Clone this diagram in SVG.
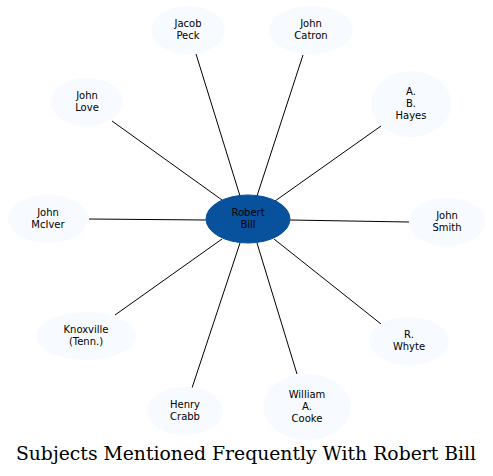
<svg xmlns="http://www.w3.org/2000/svg" width="493" height="476" viewBox="0 0 493 476">
<style>
.n{fill:#f7fbff;stroke:none}
.c{fill:#08519c;stroke:#08519c}
text{font-family:"DejaVu Sans",sans-serif;font-size:10px;text-anchor:middle;fill:#000}
.t{font-family:"DejaVu Serif",serif;font-size:18.8px}
#edges line{stroke:#000;stroke-width:1}
</style>
<rect width="493" height="476" fill="#fff"/>
<g id="edges">
<line x1="196" y1="54" x2="240" y2="196"/>
<line x1="303" y1="55" x2="257" y2="196"/>
<line x1="381" y1="126" x2="275" y2="201"/>
<line x1="112" y1="121" x2="222" y2="200"/>
<line x1="89" y1="219" x2="206" y2="220"/>
<line x1="409" y1="222" x2="290" y2="220"/>
<line x1="115" y1="315" x2="222" y2="239"/>
<line x1="381" y1="324" x2="274" y2="239"/>
<line x1="192" y1="388" x2="240" y2="243"/>
<line x1="297" y1="374" x2="257" y2="243"/>
</g>
<g id="robert_bill"><ellipse class="c" cx="248" cy="219" rx="42" ry="24"/><text x="248" y="215.5">Robert</text><text x="248" y="227.5">Bill</text></g>
<g id="jacob_peck"><ellipse class="n" cx="188" cy="30" rx="37" ry="24"/><text x="188" y="26.5">Jacob</text><text x="188" y="38.5">Peck</text></g>
<g id="john_catron"><ellipse class="n" cx="311" cy="30" rx="42" ry="24"/><text x="311" y="26.5">John</text><text x="311" y="38.5">Catron</text></g>
<g id="ab_hayes"><ellipse class="n" cx="411" cy="104" rx="40" ry="33"/><text x="411" y="94.5">A.</text><text x="411" y="106.5">B.</text><text x="411" y="118.5">Hayes</text></g>
<g id="john_love"><ellipse class="n" cx="87" cy="102" rx="36" ry="24"/><text x="87" y="98.5">John</text><text x="87" y="110.5">Love</text></g>
<g id="john_mciver"><ellipse class="n" cx="48" cy="219" rx="40" ry="24"/><text x="48" y="215.5">John</text><text x="48" y="227.5">McIver</text></g>
<g id="john_smith"><ellipse class="n" cx="447" cy="222" rx="38" ry="24"/><text x="447" y="218.5">John</text><text x="447" y="230.5">Smith</text></g>
<g id="knoxville"><ellipse class="n" cx="86" cy="336" rx="50" ry="24"/><text x="86" y="332.5">Knoxville</text><text x="86" y="344.5">(Tenn.)</text></g>
<g id="r_whyte"><ellipse class="n" cx="409" cy="341" rx="40" ry="24"/><text x="409" y="337.5">R.</text><text x="409" y="349.5">Whyte</text></g>
<g id="henry_crabb"><ellipse class="n" cx="185" cy="411" rx="38" ry="24"/><text x="185" y="407.5">Henry</text><text x="185" y="419.5">Crabb</text></g>
<g id="william_cooke"><ellipse class="n" cx="307" cy="407" rx="44" ry="33"/><text x="307" y="397.5">William</text><text x="307" y="409.5">A.</text><text x="307" y="421.5">Cooke</text></g>
<text class="t" x="246" y="460">Subjects Mentioned Frequently With Robert Bill</text>
</svg>
